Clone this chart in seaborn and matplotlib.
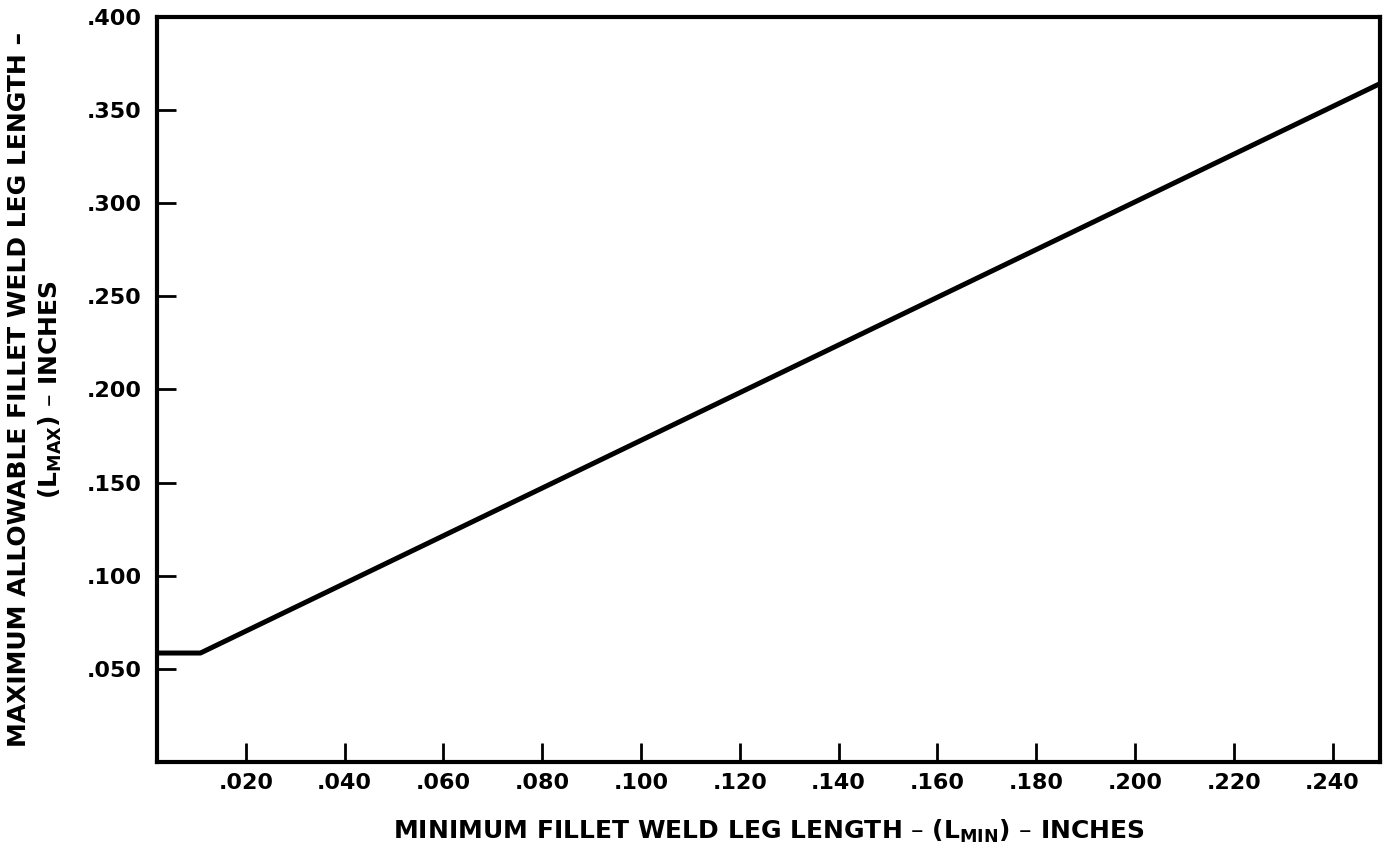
import matplotlib
matplotlib.use("Agg")
import matplotlib.pyplot as plt
import seaborn as sns
import pandas as pd

# curve: flat at the low end, then straight line
l_min = [0.002, 0.0108, 0.25]
l_max = [0.0585, 0.0585, 0.3647]

x_ticks = [0.02, 0.04, 0.06, 0.08, 0.10, 0.12, 0.14, 0.16, 0.18, 0.20, 0.22, 0.24]
x_labels = [".020", ".040", ".060", ".080", ".100", ".120", ".140", ".160", ".180", ".200", ".220", ".240"]
y_ticks = [0.05, 0.10, 0.15, 0.20, 0.25, 0.30, 0.35, 0.40]
y_labels = [".050", ".100", ".150", ".200", ".250", ".300", ".350", ".400"]

sns.set_theme(style="white")
plt.rcParams['font.family'] = ['DejaVu Sans']
plt.rcParams['font.weight'] = 'bold'
plt.rcParams['mathtext.fontset'] = 'dejavusans'

df = pd.DataFrame({"lmin": l_min, "lmax": l_max})

fig = plt.figure(figsize=(13.88, 8.61), dpi=100)
ax = fig.add_axes([0.1131, 0.115, 0.9942 - 0.1131, 0.9803 - 0.115])

sns.lineplot(data=df, x="lmin", y="lmax", color="black", linewidth=3.6, ax=ax)

ax.set_xlim(0.002, 0.2496)
ax.set_ylim(0.0, 0.400)
ax.set_xticks(x_ticks)
ax.set_xticklabels(x_labels)
ax.set_yticks(y_ticks)
ax.set_yticklabels(y_labels)
ax.tick_params(axis='both', bottom=True, left=True, direction='in', length=14, width=2,
               color='black', labelsize=16, labelcolor='black')
ax.tick_params(axis='x', pad=8)
ax.tick_params(axis='y', pad=11)
for lbl in ax.get_xticklabels() + ax.get_yticklabels():
    lbl.set_fontweight('bold')

for side in ['left', 'right', 'top', 'bottom']:
    ax.spines[side].set_visible(True)
    ax.spines[side].set_color('black')
    ax.spines[side].set_linewidth(3)

ax.set_xlabel("MINIMUM FILLET WELD LEG LENGTH \u2013 (L" + r"$_{\mathbf{MIN}}$" + ") \u2013 INCHES",
              fontsize=18, fontweight='bold', color='black', labelpad=18)
ax.set_ylabel("MAXIMUM ALLOWABLE FILLET WELD LEG LENGTH \u2013\n(L" + r"$_{\mathbf{MAX}}$" + ") \u2013 INCHES",
              fontsize=18, fontweight='bold', color='black', labelpad=16, linespacing=1.3)

fig.savefig("out.png", dpi=100, facecolor='white')
